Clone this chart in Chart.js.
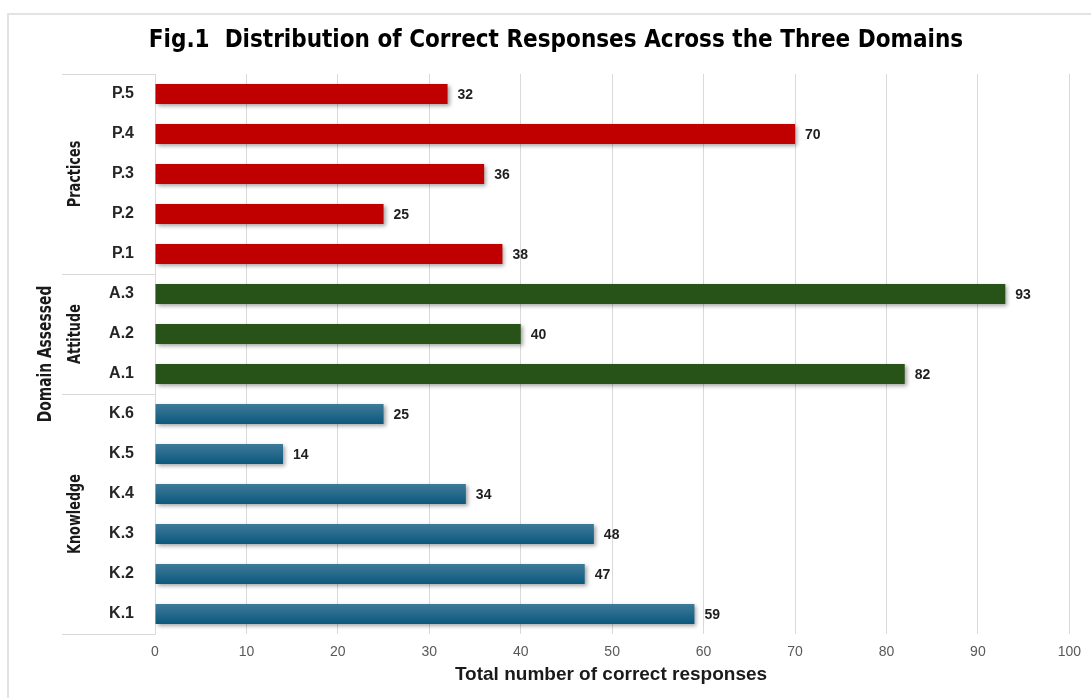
<!DOCTYPE html>
<html>
<head>
<meta charset="utf-8">
<script src="https://cdn.jsdelivr.net/npm/chart.js@4.4.1/dist/chart.umd.min.js"></script>
<style>
  html, body { margin: 0; padding: 0; background: #fff; }
  #wrap { width: 1091px; height: 698px; }
</style>
</head>
<body>
<div id="wrap"><canvas id="chart" width="1091" height="698"></canvas></div>
<script>
// categories, top to bottom as shown
const labels = ["P.5", "P.4", "P.3", "P.2", "P.1", "A.3", "A.2", "A.1", "K.6", "K.5", "K.4", "K.3", "K.2", "K.1"];
const values = [32, 70, 36, 25, 38, 93, 40, 82, 25, 14, 34, 48, 47, 59];
const domain = ["P", "P", "P", "P", "P", "A", "A", "A", "K", "K", "K", "K", "K", "K"];

// domain groups (first / last index in labels)
const groupNames = ["Practices", "Attitude", "Knowledge"];
const groupStart = [0, 5, 8];
const groupEnd = [4, 7, 13];

const xTicks = [0, 10, 20, 30, 40, 50, 60, 70, 80, 90, 100];

const titleText = "Fig.1  Distribution of Correct Responses Across the Three Domains";
const xTitle = "Total number of correct responses";
const yTitle = "Domain Assessed";

const colors = { P: "#C00000", A: "#285318" };
const narrow = "'Liberation Sans Narrow', 'DejaVu Sans Condensed', Roboto, sans-serif";
const sans = "'Liberation Sans', Arial, sans-serif";
const gridColor = "#d9d9d9";

function barColor(c) {
  const d = domain[c.dataIndex];
  if (d !== "K") return colors[d];
  const y = c.chart.scales.y;
  if (!y || y.top === undefined) return "#1a6186";
  const py = y.getPixelForValue(c.dataIndex);
  const g = c.chart.ctx.createLinearGradient(0, py - 10, 0, py + 10);
  g.addColorStop(0, "#3f7a99");
  g.addColorStop(1, "#0b587d");
  return g;
}

// rotated text squeezed along its run
function vertText(ctx, text, x, y, sx) {
  ctx.save();
  ctx.translate(x, y);
  ctx.rotate(-Math.PI / 2);
  ctx.scale(sx, 1);
  ctx.fillText(text, 0, 0);
  ctx.restore();
}

// shadow under the bars + value labels
const shadowPlugin = {
  id: "shadow",
  beforeDatasetsDraw(chart) {
    const ctx = chart.ctx;
    ctx.save();
    ctx.shadowColor = "rgba(0,0,0,0.35)";
    ctx.shadowBlur = 4;
    ctx.shadowOffsetX = 2;
    ctx.shadowOffsetY = 2;
  },
  afterDatasetsDraw(chart) {
    const ctx = chart.ctx;
    ctx.restore();

    const meta = chart.getDatasetMeta(0);
    ctx.save();
    ctx.font = "bold 14px " + sans;
    ctx.fillStyle = "#1f1f1f";
    ctx.textAlign = "left";
    ctx.textBaseline = "middle";
    meta.data.forEach((bar, i) => {
      ctx.fillText(values[i], bar.x + 10, bar.y + 1);
    });
    ctx.restore();
  }
};

// frame, titles, domain groups
const decorPlugin = {
  id: "decor",
  afterDraw(chart) {
    const ctx = chart.ctx;
    const area = chart.chartArea;
    const y = chart.scales.y;
    const half = (y.getPixelForValue(1) - y.getPixelForValue(0)) / 2;
    ctx.save();

    // outer frame
    ctx.strokeStyle = "#e3e3e3";
    ctx.lineWidth = 2;
    ctx.beginPath();
    ctx.moveTo(8, 698);
    ctx.lineTo(8, 14);
    ctx.lineTo(1091, 14);
    ctx.stroke();

    // main title
    ctx.fillStyle = "#000";
    ctx.font = "bold 24px " + narrow;
    ctx.textAlign = "center";
    ctx.textBaseline = "middle";
    ctx.fillText(titleText, 556, 41);

    // x title
    ctx.fillStyle = "#1a1a1a";
    ctx.font = "bold 19px " + sans;
    ctx.fillText(xTitle, 611, 675);

    // group separators
    ctx.strokeStyle = gridColor;
    ctx.lineWidth = 1;
    const seps = [groupStart[0]].map(i => y.getPixelForValue(i) - half)
      .concat(groupEnd.map(i => y.getPixelForValue(i) + half));
    seps.forEach(py => {
      ctx.beginPath();
      ctx.moveTo(62, Math.round(py) + 0.5);
      ctx.lineTo(area.left, Math.round(py) + 0.5);
      ctx.stroke();
    });

    // group names
    ctx.fillStyle = "#1a1a1a";
    ctx.font = "bold 17px " + narrow;
    groupNames.forEach((name, g) => {
      const cy = (y.getPixelForValue(groupStart[g]) + y.getPixelForValue(groupEnd[g])) / 2;
      vertText(ctx, name, 76, cy, 0.84);
    });

    // y title
    ctx.font = "bold 19px " + narrow;
    vertText(ctx, yTitle, 46, (area.top + area.bottom) / 2, 0.81);

    ctx.restore();
  }
};

new Chart(document.getElementById("chart"), {
  type: "bar",
  data: {
    labels: labels,
    datasets: [{
      data: values,
      backgroundColor: barColor,
      borderWidth: 0,
      barPercentage: 0.5,
      categoryPercentage: 1.0
    }]
  },
  options: {
    indexAxis: "y",
    responsive: false,
    animation: false,
    layout: { padding: { top: 74, right: 21, left: 0, bottom: 0 } },
    plugins: {
      legend: { display: false },
      tooltip: { enabled: false },
      title: { display: false }
    },
    scales: {
      x: {
        min: 0,
        max: 100,
        afterBuildTicks: s => { s.ticks = xTicks.map(v => ({ value: v })); },
        grid: { color: gridColor, drawTicks: false },
        border: { display: false },
        ticks: {
          color: "#595959",
          padding: 10,
          font: { size: 14, family: sans }
        },
        afterFit: s => { s.height = 64; }
      },
      y: {
        grid: { display: false, drawTicks: false },
        border: { display: true, color: gridColor },
        ticks: {
          color: "#262626",
          padding: 21,
          font: { size: 16, weight: "bold", family: sans }
        },
        afterFit: s => { s.width = 155; }
      }
    }
  },
  plugins: [shadowPlugin, decorPlugin]
});
</script>
</body>
</html>
